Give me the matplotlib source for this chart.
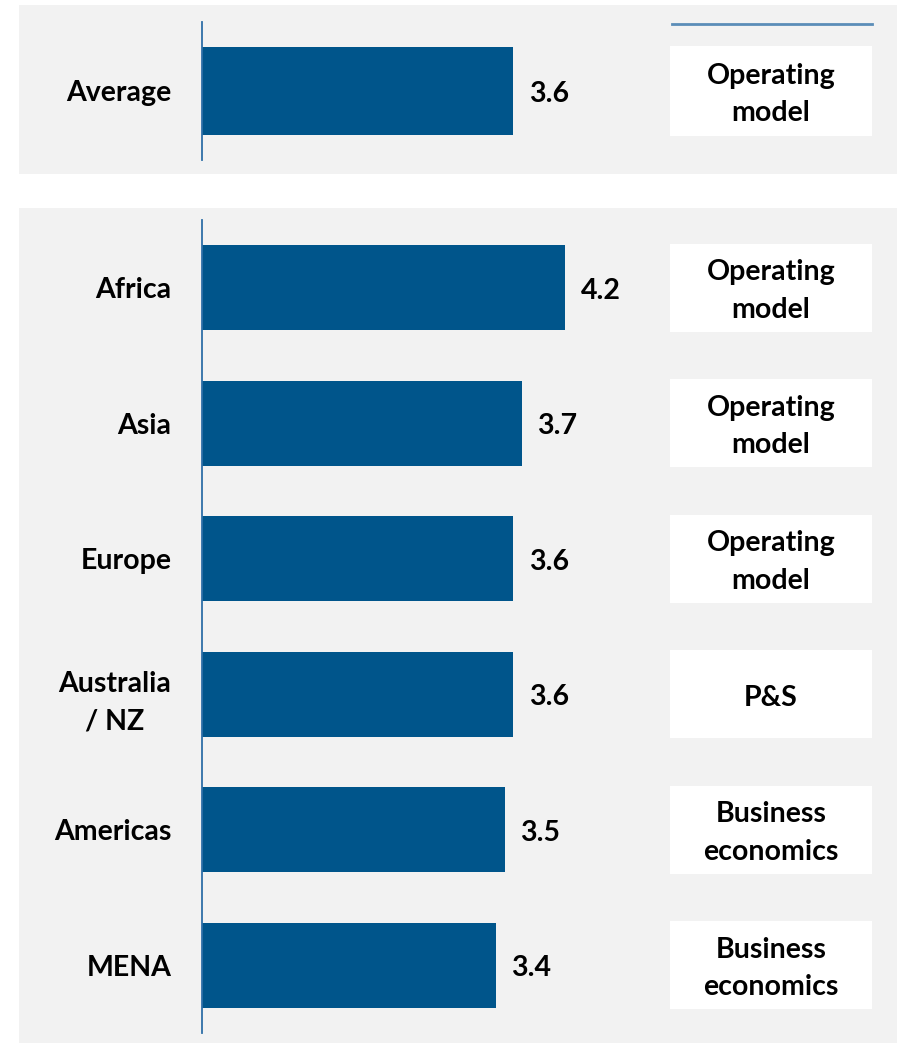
import matplotlib
import matplotlib.pyplot as plt
from matplotlib.patches import Rectangle
from matplotlib.transforms import blended_transform_factory

matplotlib.rcParams['font.family'] = ['Lato', 'DejaVu Sans']
matplotlib.rcParams['font.weight'] = 'bold'

# 평균
avg_label = 'Average'
avg_value = 3.6
avg_driver = 'Operating\nmodel'

# 지역별 점수
regions = ['Africa', 'Asia', 'Europe', 'Australia\n/ NZ', 'Americas', 'MENA']
scores = [4.2, 3.7, 3.6, 3.6, 3.5, 3.4]
drivers = ['Operating\nmodel', 'Operating\nmodel', 'Operating\nmodel', 'P&S',
           'Business\neconomics', 'Business\neconomics']

W, H = 901, 1045
BAR = '#00558B'
AXIS = '#2E6FA7'
PANEL = '#F2F2F2'
FS = 20.5

fig = plt.figure(figsize=(W / 100, H / 100), dpi=100)
fig.patch.set_facecolor('white')


def px(x0, y0, x1, y1):
    # 픽셀 좌표 -> figure 비율 (left, bottom, width, height)
    return [x0 / W, 1 - y1 / H, (x1 - x0) / W, (y1 - y0) / H]


# 회색 배경 패널
for x0, y0, x1, y1 in [(19, 5, 897, 174), (19, 208, 897, 1043)]:
    l, b, w, h = px(x0, y0, x1, y1)
    fig.patches.append(Rectangle((l, b), w, h, transform=fig.transFigure,
                                 facecolor=PANEL, edgecolor='none', zorder=-10))

# 오른쪽 위 구분선
fig.add_artist(plt.Line2D([672 / W, 872 / W], [1 - 24 / H, 1 - 24 / H],
                          transform=fig.transFigure, color='#5B8DB8', lw=2))

x_max = (660 - 202) / 86.5


def draw(ax, labels, values, texts, bar_h):
    pos = list(range(len(labels)))
    ax.barh(pos, values, height=bar_h, color=BAR, zorder=2)
    ax.set_xlim(0, x_max)
    ax.set_ylim(len(labels) - 0.5, -0.5)
    ax.set_facecolor('none')
    for s in ['top', 'right', 'bottom']:
        ax.spines[s].set_visible(False)
    ax.spines['left'].set_color(AXIS)
    ax.spines['left'].set_linewidth(1.3)
    ax.set_xticks([])
    ax.set_yticks(pos)
    ax.set_yticklabels(labels, fontsize=FS, fontweight='bold',
                       multialignment='center', linespacing=1.55)
    ax.tick_params(axis='y', length=0, pad=22)
    for p, v in zip(pos, values):
        ax.annotate(f'{v:.1f}', (v, p), xytext=(11, -2), textcoords='offset points',
                    ha='left', va='center', fontsize=FS, fontweight='bold')
    # 오른쪽 흰색 박스
    tr = blended_transform_factory(fig.transFigure, ax.transData)
    for p, t in zip(pos, texts):
        ax.add_patch(Rectangle((670 / W, p - bar_h / 2 - 0.01), 202 / W, bar_h + 0.02,
                               transform=tr, facecolor='white', edgecolor='none',
                               clip_on=False, zorder=1))
        ax.text(771 / W, p + 0.025, t, transform=tr, ha='center', va='center',
                fontsize=FS, fontweight='bold', linespacing=1.55, clip_on=False)


ax_top = fig.add_axes(px(202, 22, 660, 160))
draw(ax_top, [avg_label], [avg_value], [avg_driver], 88 / 138)

ax_bot = fig.add_axes(px(202, 220, 660, 1033))
draw(ax_bot, regions, scores, drivers, 85 / 135.5)

fig.savefig('out.png', dpi=100, facecolor='white')
